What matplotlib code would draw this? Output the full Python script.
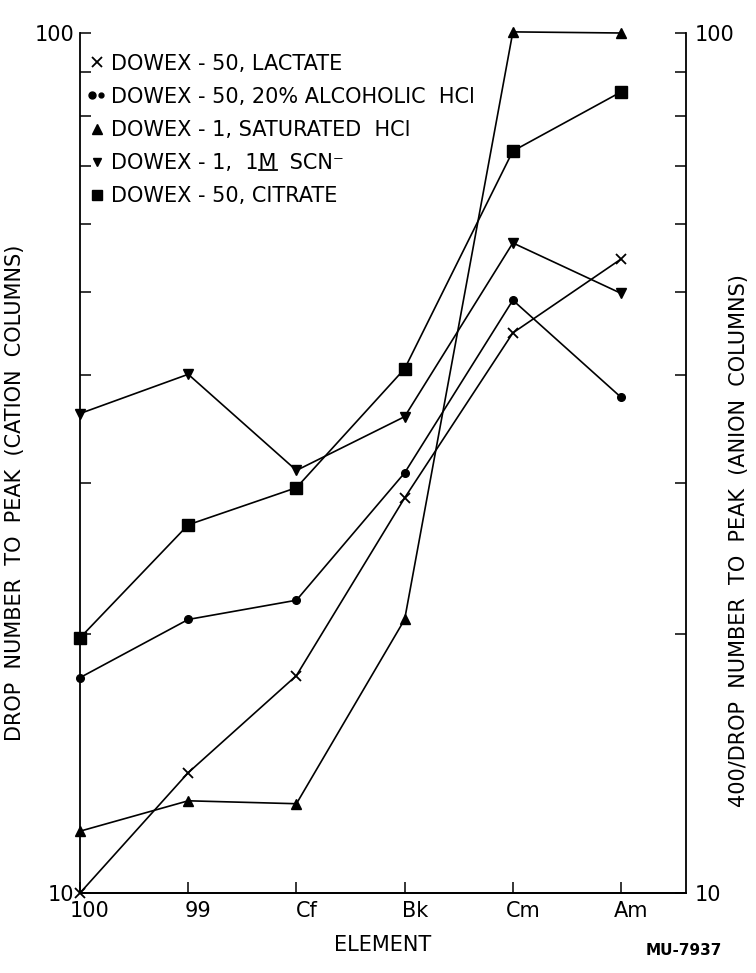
import numpy as np
import matplotlib.pyplot as plt
from matplotlib.lines import Line2D
from matplotlib.legend_handler import HandlerTuple
from matplotlib.transforms import ScaledTranslation, IdentityTransform

plt.rcParams['font.family'] = ['DejaVu Sans']

# elements along the x axis
elements = ['100', '99', 'Cf', 'Bk', 'Cm', 'Am']

# cation columns (left axis): drop number to peak
lactate = [10.0, 13.8, 17.9, 28.8, 44.8, 54.6]
alcoholic_hcl = [17.8, 20.8, 21.9, 30.8, 48.9, 37.7]
citrate = [19.8, 26.8, 29.6, 40.7, 72.9, 85.4]

# anion columns (right axis): 400 / drop number to peak
saturated_hcl = [11.8, 12.8, 12.7, 20.8, 100.3, 100.0]
scn = [36.1, 40.1, 31.0, 35.8, 57.0, 49.8]

scn_prefix = 'DOWEX - 1,  1'
labels = ['DOWEX - 50, LACTATE',
          'DOWEX - 50, 20% ALCOHOLIC  HCl',
          'DOWEX - 1, SATURATED  HCl',
          scn_prefix + 'M  SCN\u207b',
          'DOWEX - 50, CITRATE']

fig = plt.figure(figsize=(7.56, 9.73), dpi=100)
ax = fig.add_axes([80 / 756, 80 / 973, 606 / 756, 860 / 973])
ax2 = ax.twinx()

x = np.arange(len(elements))
lw = 1.2
kw = dict(color='black', lw=lw, clip_on=False)

ax.plot(x, lactate, marker='x', ms=7, mew=1.3, **kw)
ax.plot(x, alcoholic_hcl, marker='o', ms=5.5, **kw)
ax.plot(x, citrate, marker='s', ms=8, **kw)
ax2.plot(x, saturated_hcl, marker='^', ms=7.5, **kw)
ax2.plot(x, scn, marker='v', ms=7.5, **kw)

for a in (ax, ax2):
    a.set_yscale('log')
    a.set_ylim(10, 100)
    a.set_xlim(0, 5.6)
    a.set_yticks([10, 100])
    a.set_yticklabels(['10', '100'])
    a.set_yticks(list(range(20, 100, 10)), minor=True)
    a.set_yticklabels([], minor=True)
    a.tick_params(axis='y', which='both', direction='in', length=8, width=1.1,
                  labelsize=15)
    a.spines['top'].set_visible(False)
    for s in a.spines.values():
        s.set_linewidth(1.3)

ax.spines['right'].set_visible(False)
ax2.spines['left'].set_visible(False)
ax.tick_params(axis='y', which='both', pad=4)
ax2.tick_params(axis='y', which='both', pad=6)

ax.set_xticks(x)
ax.set_xticklabels(elements)
ax.tick_params(axis='x', direction='in', length=8, width=1.1, labelsize=15, pad=6)
# labels in the scan sit a little right of the tick marks
shift = ScaledTranslation(0.1, 0, fig.dpi_scale_trans)
for lbl in ax.get_xticklabels():
    lbl.set_transform(lbl.get_transform() + shift)

ax.set_ylabel('DROP  NUMBER  TO  PEAK  (CATION  COLUMNS)', fontsize=15)
ax.yaxis.set_label_coords(-0.091, 0.465)
ax2.set_ylabel('400/DROP  NUMBER  TO  PEAK  (ANION  COLUMNS)', fontsize=15,
               rotation=90, va='center')
ax2.yaxis.set_label_coords(1.087, 0.41)
ax.set_xlabel('ELEMENT', fontsize=15, labelpad=10)

handles = [
    Line2D([], [], marker='x', ls='none', color='black', ms=7, mew=1.3),
    (Line2D([], [], marker='o', ls='none', color='black', ms=5),
     Line2D([], [], marker='o', ls='none', color='black', ms=3.5)),
    Line2D([], [], marker='^', ls='none', color='black', ms=7),
    Line2D([], [], marker='v', ls='none', color='black', ms=6),
    Line2D([], [], marker='s', ls='none', color='black', ms=6.5),
]
leg = ax2.legend(handles, labels, loc='upper left', bbox_to_anchor=(0.012, 0.976),
                 frameon=False, fontsize=15, handlelength=0.9, handletextpad=0.25,
                 labelspacing=0.63, borderaxespad=0, borderpad=0,
                 handler_map={tuple: HandlerTuple(ndivide=None, pad=0.0)})

fig.text(0.955, 0.015, 'MU-7937', fontsize=11, fontweight='bold', ha='right',
         va='bottom')

# underline the M of "1M" in the SCN legend entry
fig.canvas.draw()
r = fig.canvas.get_renderer()
scn_text = leg.get_texts()[3]
bb = scn_text.get_window_extent(r)
tmp = fig.text(0, 0, scn_prefix, fontsize=15)
w0 = tmp.get_window_extent(r).width
tmp.set_text(scn_prefix + 'M')
w1 = tmp.get_window_extent(r).width
tmp.remove()
y_u = bb.y0 + 3
fig.add_artist(Line2D([bb.x0 + w0, bb.x0 + w1], [y_u, y_u], color='black', lw=1.3,
                      transform=IdentityTransform()))

fig.savefig('out.png', dpi=100)
